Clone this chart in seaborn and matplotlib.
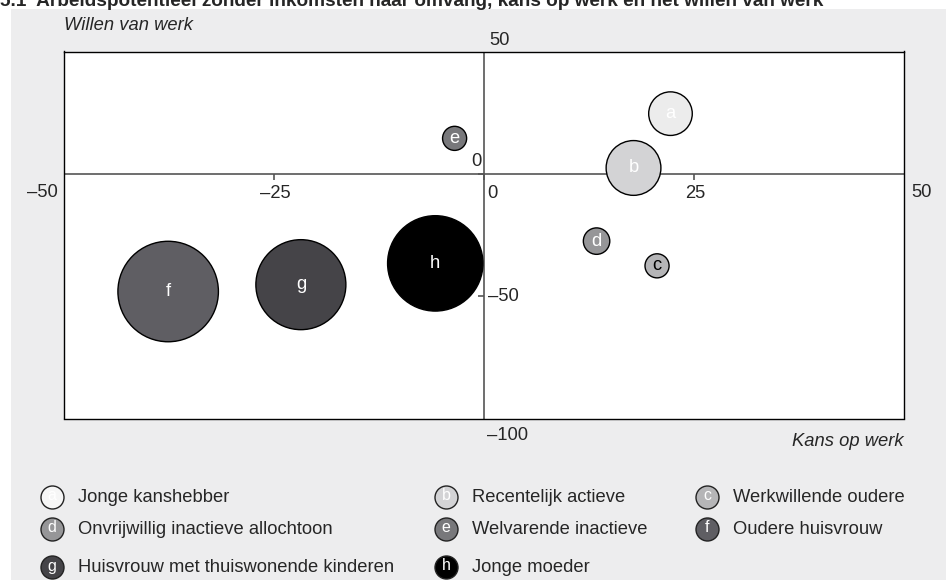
import pandas as pd
import seaborn as sns
import matplotlib.pyplot as plt
from matplotlib.patches import Rectangle

# ---------------- data ----------------
groepen = ['a', 'b', 'c', 'd', 'e', 'f', 'g', 'h']
namen = ['Jonge kanshebber', 'Recentelijk actieve', 'Werkwillende oudere',
         'Onvrijwillig inactieve allochtoon', 'Welvarende inactieve', 'Oudere huisvrouw',
         'Huisvrouw met thuiswonende kinderen', 'Jonge moeder']
kans_op_werk = [22.2, 17.8, 20.6, 13.4, -3.5, -37.6, -21.8, -5.8]
willen_van_werk = [24.6, 2.4, -37.6, -27.5, 14.5, -48.1, -45.3, -36.6]
omvang = [95, 150, 29, 35, 29, 505, 405, 455]

xticks = [-25, 0, 25]
yticks = [0, -50]

df = pd.DataFrame({'groep': groepen, 'naam': namen, 'x': kans_op_werk,
                   'y': willen_van_werk, 'omvang': omvang})

# ---------------- style ----------------
kleuren = {'a': '#ececec', 'b': '#d3d3d5', 'c': '#b5b5b7', 'd': '#969698',
           'e': '#78787b', 'f': '#5f5e63', 'g': '#454448', 'h': '#000000'}
tekstkleur = {g: 'white' for g in groepen}
tekstkleur['c'] = 'black'

sns.set_style("white")
plt.rcParams['font.family'] = ['Liberation Sans', 'DejaVu Sans']
fs = 13.2

fig = plt.figure(figsize=(9.46, 5.80), dpi=100)
fig.patch.set_facecolor('white')
W, H = 946, 580
fig.patches.append(Rectangle((11 / W, 0), 1, 1 - 9 / H, transform=fig.transFigure,
                             facecolor='#ededee', edgecolor='none', zorder=-5))

fig.text(0, 1 - 6 / H, '5.1  Arbeidspotentieel zonder inkomsten naar omvang, kans op werk en het willen van werk',
         fontsize=13.7, fontweight='bold', ha='left', va='baseline')

ax = fig.add_axes([64 / W, 1 - 418.5 / H, 840 / W, 367 / H])
ax.set_facecolor('white')

sns.scatterplot(data=df, x='x', y='y', hue='groep', palette=kleuren,
                size='omvang', sizes=(0, 6221), size_norm=(0, 600),
                edgecolor='black', linewidth=1, legend=False, zorder=3, ax=ax)

for _, r in df.iterrows():
    ax.text(r['x'], r['y'], r['groep'], color=tekstkleur[r['groep']], fontsize=fs,
            ha='center', va='center', zorder=4)

ax.set_xlim(-50, 50)
ax.set_ylim(-100, 50)
ax.axhline(0, color='#555555', lw=1.2, zorder=2)
ax.axvline(0, color='#555555', lw=1.2, zorder=2)
for s in ax.spines.values():
    s.set_color('black')
    s.set_linewidth(1)
ax.set_xticks([])
ax.set_yticks([])
ax.set_xlabel('')
ax.set_ylabel('')

# small tick marks on the centre axes
ax.plot(xticks, [0] * len(xticks), marker=3, ls='none', ms=4, color='#555555', mew=1.2)
ax.plot([0] * len(yticks), yticks, marker=0, ls='none', ms=4, color='#555555', mew=1.2)

# tick labels
lo_x, hi_x = ax.get_xlim()
lo_y, hi_y = ax.get_ylim()
for t in xticks:
    dx = 8 if t == 0 else 1
    ax.annotate(f'{t}'.replace('-', '\u2013'), (t, 0), xytext=(dx * 0.72, -20 * 0.72),
                textcoords='offset points', ha='center', va='center', fontsize=fs)
ax.annotate(f'{int(lo_x)}'.replace('-', '\u2013'), (lo_x, 0), xytext=(-6 * 0.72, -19 * 0.72),
            textcoords='offset points', ha='right', va='center', fontsize=fs, annotation_clip=False)
ax.annotate(f'{int(hi_x)}', (hi_x, 0), xytext=(7 * 0.72, -19 * 0.72),
            textcoords='offset points', ha='left', va='center', fontsize=fs, annotation_clip=False)
ax.annotate('0', (0, 0), xytext=(-2 * 0.72, 12 * 0.72), textcoords='offset points',
            ha='right', va='center', fontsize=fs)
ax.annotate(f'{yticks[1]}'.replace('-', '\u2013'), (0, yticks[1]), xytext=(4 * 0.72, 0),
            textcoords='offset points', ha='left', va='center', fontsize=fs)
ax.annotate(f'{int(hi_y)}', (0, hi_y), xytext=(5 * 0.72, 11 * 0.72), textcoords='offset points',
            ha='left', va='center', fontsize=fs, annotation_clip=False)
ax.annotate(f'{int(lo_y)}'.replace('-', '\u2013'), (0, lo_y), xytext=(3 * 0.72, -17 * 0.72),
            textcoords='offset points', ha='left', va='center', fontsize=fs, annotation_clip=False)

# axis titles
fig.text(64 / W, 1 - 26 / H, 'Willen van werk', style='italic', fontsize=fs, ha='left', va='center')
fig.text(904 / W, 1 - 441 / H, 'Kans op werk', style='italic', fontsize=fs, ha='right', va='center')

# legend, three columns
lax = fig.add_axes([0, 0, 1, 1], zorder=-1)
lax.patch.set_visible(False)
lax.set_xlim(0, W)
lax.set_ylim(H, 0)
lax.axis('off')
kol_x = [52, 446, 707]
rij_y = [497, 529, 567]
for i, (g, naam) in enumerate(zip(groepen, namen)):
    cx, cy = kol_x[i % 3], rij_y[i // 3]
    lax.scatter([cx], [cy], s=274, color=kleuren[g] if g != 'a' else '#f6f6f6',
                edgecolor='#222222', linewidth=1, zorder=3)
    lax.text(cx, cy - 1, g, color='white', fontsize=11.5, ha='center', va='center', zorder=4)
    lax.text(cx + 26, cy, naam, fontsize=fs, ha='left', va='center')

fig.savefig('out.png', dpi=100)
